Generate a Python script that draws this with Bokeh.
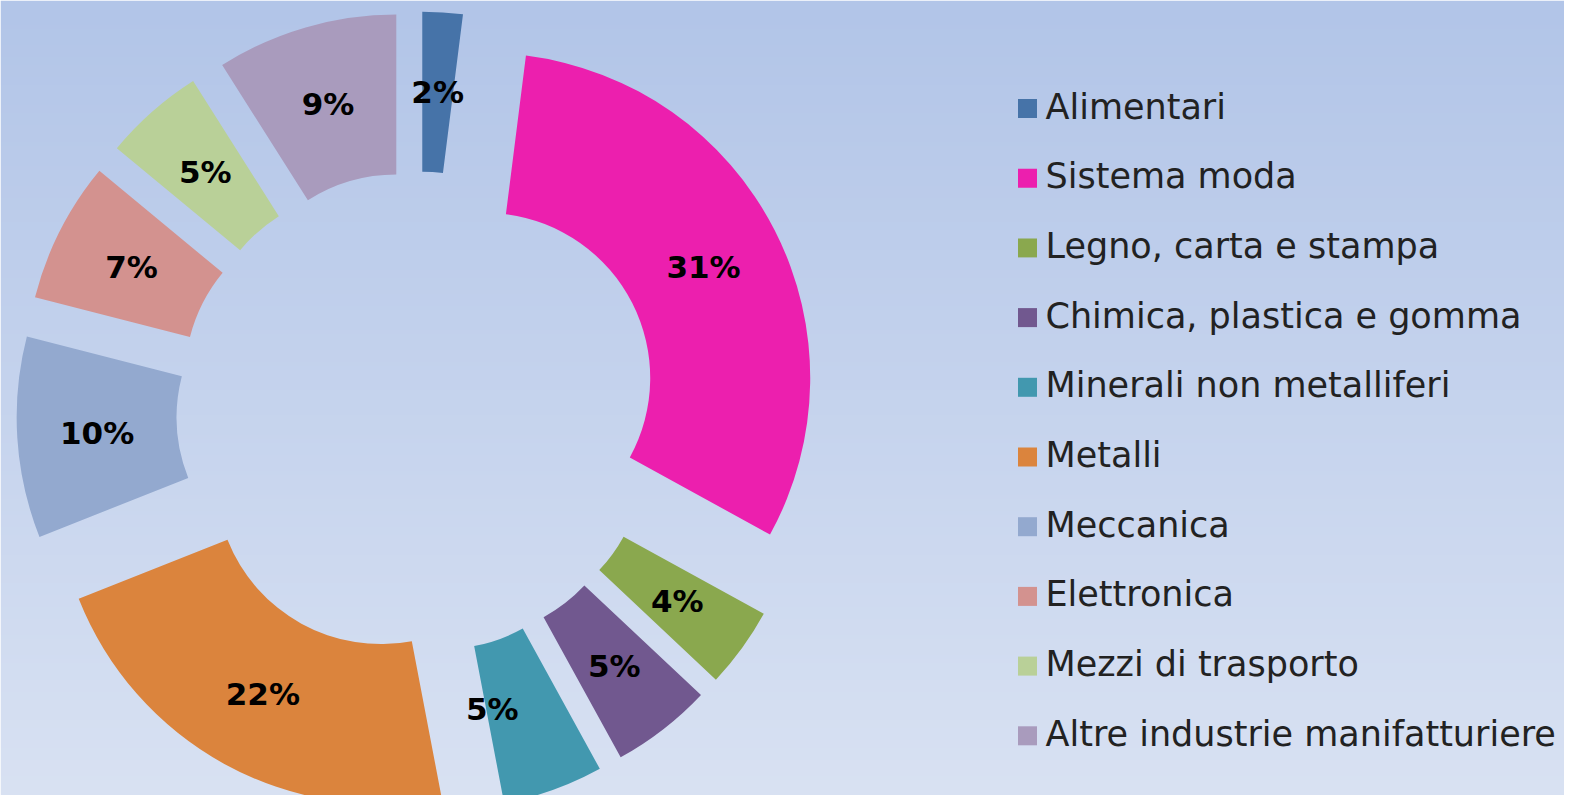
import numpy as np
from bokeh.plotting import figure
from bokeh.models import Range1d
from bokeh.core.properties import value
from bokeh.embed import file_html
from bokeh.resources import INLINE

categories = ["Alimentari", "Sistema moda", "Legno, carta e stampa",
              "Chimica, plastica e gomma", "Minerali non metalliferi", "Metalli",
              "Meccanica", "Elettronica", "Mezzi di trasporto",
              "Altre industrie manifatturiere"]
shares = [2, 31, 4, 5, 5, 22, 10, 7, 5, 9]
labels = ["2%", "31%", "4%", "5%", "5%", "22%", "10%", "7%", "5%", "9%"]
colors = ["#4673A8", "#EC1FAE", "#8AA84E", "#71588F", "#4298AF", "#DB843D",
          "#93A9CF", "#D3928F", "#B9D098", "#A99BBD"]

W, H = 1564, 795
p = figure(width=W, height=H, output_backend="svg", toolbar_location=None,
           x_range=Range1d(0, W), y_range=Range1d(803 - H, 803),
           min_border=0, outline_line_color=None)
p.axis.visible = False
p.grid.visible = False

# background gradient
top = np.array([0xB2, 0xC5, 0xE8]); bot = np.array([0xD9, 0xE2, 0xF3])
n = 200
img = np.zeros((n, 1), dtype=np.uint32)
view = img.view(dtype=np.uint8).reshape((n, 1, 4))
for i in range(n):
    t = i / (n - 1)  # i=0 bottom
    c = bot * (1 - t) + top * t
    view[i, 0, 0:3] = c.astype(np.uint8)
    view[i, 0, 3] = 255
p.image_rgba(image=[img], x=0, y=0, dw=1572, dh=803)

cx, cy = 417, 803 - 412
R, r, d = 325, 165, 76
frac = np.array(shares, dtype=float) / sum(shares)
cum = np.concatenate([[0], np.cumsum(frac)])
starts = np.pi / 2 - 2 * np.pi * cum[:-1]
ends = np.pi / 2 - 2 * np.pi * cum[1:]
mids = (starts + ends) / 2
xs = cx + d * np.cos(mids)
ys = cy + d * np.sin(mids)
p.annular_wedge(x=xs, y=ys, inner_radius=r, outer_radius=R,
                start_angle=starts, end_angle=ends, direction="clock",
                fill_color=colors, line_color=None)

lr = d + (R + r) / 2
lx = cx + lr * np.cos(mids)
ly = cy + lr * np.sin(mids)
lx[4] -= 34; ly[4] += 6
p.text(x=lx, y=ly, text=labels, text_align="center", text_baseline="middle",
       text_font=value("DejaVu Sans"), text_font_style="bold",
       text_font_size="31px", text_color="black")

# legend
idx = np.arange(len(categories))
p.rect(x=[1027] * len(categories), y=803 - (108 + 69.7 * idx), width=19, height=19,
       fill_color=colors, line_color=None)
p.text(x=[1045] * len(categories), y=803 - (106 + 69.7 * idx), text=categories,
       text_align="left", text_baseline="alphabetic",
       text_font=value("DejaVu Sans"), text_font_size="35px",
       text_color="#222222")

open("out.html", "w").write(file_html(p, INLINE))
